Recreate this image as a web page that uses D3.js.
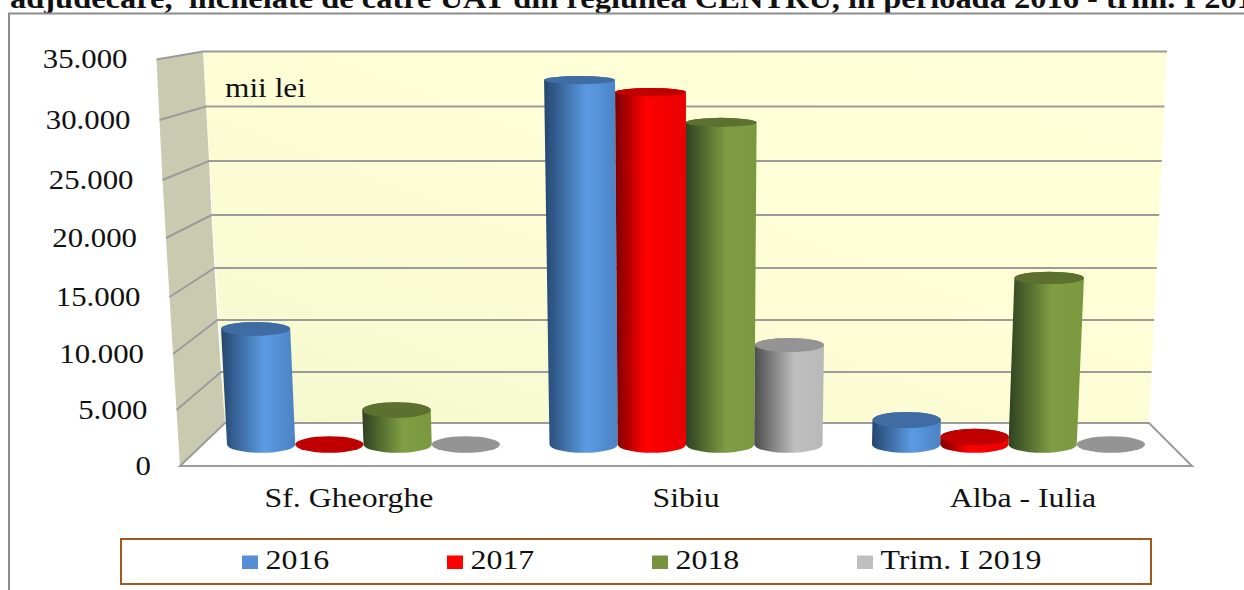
<!DOCTYPE html>
<html><head><meta charset="utf-8">
<script src="https://cdnjs.cloudflare.com/ajax/libs/d3/7.8.5/d3.min.js"></script>
<style>html,body{margin:0;padding:0;background:#fff}svg{display:block}text{font-family:"Liberation Serif",serif;fill:#111}</style>
</head><body><svg id="c" width="1244" height="590"></svg>
<script>
const categories = ["Sf. Gheorghe", "Sibiu", "Alba - Iulia"];
const seriesNames = ["2016", "2017", "2018", "Trim. I 2019"];
const values2016 = [10750, 32870, 2290];
const values2017 = [0, 31830, 700];
const values2018 = [3220, 29200, 15400];
const valuesTrim = [0, 9260, 0];
const seriesValues = [values2016, values2017, values2018, valuesTrim];
const tickValues = [0, 5000, 10000, 15000, 20000, 25000, 30000, 35000];
const titleText = "adjudecare,  încheiate de către UAT din regiunea CENTRU, în perioada 2016 - trim. I 2019";
const unitText = "mii lei";

const seriesColors = [
  {dark:"#24466f", mid:"#5B9BE3", end:"#4B82C4", cap:"#3F6CA2", swatch:"#558ED5", at:0.58},
  {dark:"#7a0000", mid:"#FF0000", end:"#E80000", cap:"#C00000", swatch:"#FF0000", at:0.42},
  {dark:"#2e4220", mid:"#7F9F42", end:"#7A983E", cap:"#5C7030", swatch:"#76923C", at:0.58},
  {dark:"#4c4c4c", mid:"#BFBFBF", end:"#B8B8B8", cap:"#949494", swatch:"#BFBFBF", at:0.58}
];

// the projected wall: non-uniform because the picture is a perspective view
const yBack  = d3.scaleLinear().domain(tickValues).range([423,372,320,268,215,161,106.5,51.5]);
const yFront = d3.scaleLinear().domain(tickValues).range([466,410,354,297,238,180,120,59.5]);
const xBackL = d3.scaleLinear().domain(tickValues).range([225,221,217.5,214.5,211.5,209,206,203]);
const xFrontL= d3.scaleLinear().domain(tickValues).range([180,176.5,173,169.5,166,162.5,159.5,156.5]);
const xBackR = d3.scaleLinear().domain([0,35000]).range([1149,1167]);
const yMid = v => (yBack(v)+yFront(v))/2;
const vanishX = 687, persp = 0.042;
const tFrac = d3.scaleLinear().domain([0,35000]);

const xGroup = d3.scaleBand().domain(categories).range([202,1169.5]);
const xBar = d3.scaleBand().domain(seriesNames).range([25,298]);
const rxBase = xBar.bandwidth()/2;
const ryAt = d3.scaleLinear().domain([0,35000]).range([8.3,3.8]);

const svg = d3.select("#c");
const defs = svg.append("defs");
seriesColors.forEach((c,i)=>{
  const g = defs.append("linearGradient").attr("id","cyl"+i);
  [[0,c.dark],[c.at,c.mid],[1,c.end]].forEach(([o,col])=>g.append("stop").attr("offset",o).attr("stop-color",col));
});
const wg = defs.append("linearGradient").attr("id","wall").attr("x1",0).attr("y1",1).attr("x2",1).attr("y2",0);
wg.append("stop").attr("offset",0).attr("stop-color","#F5F8CE");
wg.append("stop").attr("offset",0.55).attr("stop-color","#FEFED6");
wg.append("stop").attr("offset",1).attr("stop-color","#FFFFD9");

function label(x,y,s,size,anchor,weight,sx){
  const el = svg.append("text").attr("transform",`translate(${x},${y}) scale(${sx||1.1},1)`)
    .attr("font-size",size).attr("text-anchor",anchor||"start").text(s);
  if(weight) el.attr("font-weight",weight);
  return el;
}

// title, cropped by the top and right of the picture as in the reference
label(10,8,titleText,29,"start","bold",1.12).style("white-space","pre");

// frame
svg.append("path").attr("d","M9,590V13.5H1244").attr("fill","none").attr("stroke","#8c8c8c").attr("stroke-width",2);

const maxV = tickValues[tickValues.length-1], zero = tickValues[0];
const grid = "#9b9b9b";
// walls and floor
svg.append("path").attr("d",`M${xBackL(maxV)},${yBack(maxV)}H${xBackR(maxV)}L${xBackR(zero)},${yBack(zero)}H${xBackL(zero)}Z`).attr("fill","url(#wall)");
const leftWall = d3.line().x(d=>d[0]).y(d=>d[1])(
  tickValues.map(v=>[xBackL(v),yBack(v)]).concat(tickValues.slice().reverse().map(v=>[xFrontL(v),yFront(v)])))+"Z";
svg.append("path").attr("d",leftWall).attr("fill","#C9CAAF");
svg.append("path").attr("d",`M${xBackL(zero)},${yBack(zero)}H${xBackR(zero)}L1192,${yFront(zero)}H${xFrontL(zero)}Z`)
  .attr("fill","#fff").attr("stroke",grid).attr("stroke-width",2);
tickValues.filter(v=>v>0).forEach(v=>{
  svg.append("path").attr("d",`M${xFrontL(v)},${yFront(v)}L${xBackL(v)},${yBack(v)}H${xBackR(v)}`)
    .attr("fill","none").attr("stroke",grid).attr("stroke-width",2);
});

// tick labels
const fmt = d3.formatLocale({decimal:",",thousands:".",grouping:[3],currency:["",""]}).format(",d");
tickValues.forEach(v=>label(xFrontL(v)-29,yFront(v)+8.5,fmt(v),28,"end"));
label(225,96.5,unitText,28,"start",null,1.12);

// cylinders
const barsMid = (xBar.range()[0]+xBar.range()[1])/2;
const sceneMid = xGroup(categories[1])+barsMid;
categories.forEach(cat=>{
  const ci = categories.indexOf(cat);
  seriesNames.forEach((s,si)=>{
    const v = seriesValues[si][ci];
    const cxBase = xGroup(cat)+xBar(s)+rxBase;
    const k = persp*tFrac(v);
    const cxTop = cxBase+(cxBase-vanishX)*k;
    const rxTop = rxBase*(1+k);
    const yB = yMid(0), yT = yMid(v);
    const ryB = ryAt(0), ryT = ryAt(v);
    const side = `M${cxTop-rxTop},${yT}L${cxBase-rxBase},${yB}A${rxBase},${ryB} 0 0 0 ${cxBase+rxBase},${yB}L${cxTop+rxTop},${yT}A${rxTop},${ryT} 0 0 0 ${cxTop-rxTop},${yT}Z`;
    if(v>0) svg.append("path").attr("d",side).attr("fill",`url(#cyl${si})`);
    svg.append("ellipse").attr("cx",cxTop).attr("cy",yT).attr("rx",rxTop).attr("ry",ryT).attr("fill",seriesColors[si].cap);
  });
  label(sceneMid+(xGroup(cat)+barsMid-sceneMid)*1.045,507,cat,28,"middle",null,1.135);
});

// legend
svg.append("rect").attr("x",121).attr("y",539).attr("width",1030).attr("height",45)
  .attr("fill","#fff").attr("stroke","#A5581E").attr("stroke-width",2);
const xLegend = d3.scaleBand().domain(seriesNames).range([242,1062]);
seriesNames.forEach((s,i)=>{
  svg.append("rect").attr("x",xLegend(s)).attr("y",555.5).attr("width",16).attr("height",13.5).attr("fill",seriesColors[i].swatch);
  label(xLegend(s)+23.5,568.5,s,28,"start",null,1.14);
});
</script></body></html>
